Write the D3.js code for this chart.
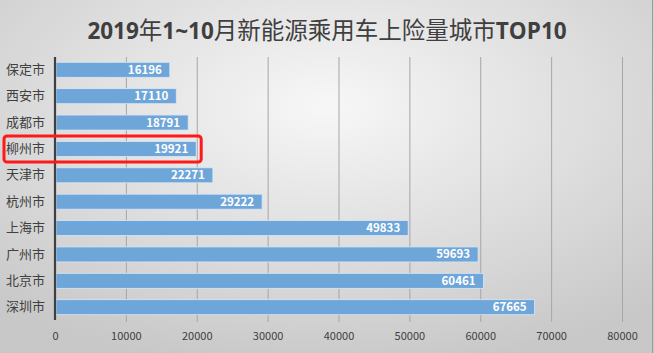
<!DOCTYPE html>
<html>
<head>
<meta charset="utf-8">
<script src="https://cdnjs.cloudflare.com/ajax/libs/d3/7.8.5/d3.min.js"></script>
<style>
  body { margin: 0; overflow: hidden; }
  text { font-family: "Noto Sans CJK SC", "Noto Sans", sans-serif; }
</style>
</head>
<body>
<script>
const w = 654;
const h = 353;

const cities = ["保定市", "西安市", "成都市", "柳州市", "天津市", "杭州市", "上海市", "广州市", "北京市", "深圳市"];
const values = [16196, 17110, 18791, 19921, 22271, 29222, 49833, 59693, 60461, 67665];
const xTicks = [0, 10000, 20000, 30000, 40000, 50000, 60000, 70000, 80000];
const highlight = "柳州市";

const titleParts = ["2019", "年", "1~10", "月新能源乘用车上险量城市", "TOP10"];
const m = { t: 57, r: 32, b: 33, l: 55 };
const gridWidth = w - m.l - m.r;
const gridHeight = h - m.t - m.b;

const svg = d3.select("body").append("svg").attr("width", w).attr("height", h);

// background
const defs = svg.append("defs");
const grad = defs
  .append("radialGradient")
  .attr("id", "bg")
  .attr("cx", "50%")
  .attr("cy", "30%")
  .attr("r", "75%");
grad.append("stop").attr("offset", "0%").attr("stop-color", "#f7f7f7");
grad.append("stop").attr("offset", "100%").attr("stop-color", "#c8c8c8");
svg.append("rect").attr("width", w).attr("height", h).attr("fill", "url(#bg)");
svg
  .append("line")
  .attr("x1", w - 1.5)
  .attr("x2", w - 1.5)
  .attr("y1", 0)
  .attr("y2", h)
  .attr("stroke", "#9a9a9a");

const xScale = d3.scaleLinear().domain([0, 80000]).range([0, gridWidth]);
const yScale = d3.scaleBand().domain(cities).range([0, gridHeight]).paddingInner(0.43).paddingOuter(0.2);

const g = svg.append("g").attr("transform", `translate(${m.l}, ${m.t})`);

// title: latin bold, CJK regular
const title = svg
  .append("text")
  .attr("x", w / 2)
  .attr("y", 39)
  .attr("text-anchor", "middle")
  .attr("fill", "#3f3f3f");
title
  .selectAll("tspan")
  .data(titleParts)
  .enter()
  .append("tspan")
  .attr("font-weight", (d, i) => (i % 2 === 0 ? "bold" : "normal"))
  .attr("font-family", (d, i) => (i % 2 === 0 ? "'Open Sans', 'DejaVu Sans', sans-serif" : null))
  .attr("font-size", (d, i) => (i % 2 === 0 ? 22.5 : 23.5))
  .text((d) => d);

// x-axis grid
const xAxis = d3
  .axisBottom(xScale)
  .tickValues(xTicks)
  .tickSize(-gridHeight - 2)
  .tickPadding(10)
  .tickFormat(d3.format("d"));
const xg = g.append("g").attr("transform", `translate(0, ${gridHeight + 2})`).call(xAxis);
xg.select(".domain").remove();
xg.selectAll(".tick line").attr("stroke", "#a6a6a6");
xg.selectAll(".tick text").attr("fill", "#404040").attr("font-size", 11).attr("font-family", "'Open Sans', 'DejaVu Sans', sans-serif");
xg.selectAll(".tick").filter((d) => d === 0).select("line").remove();

// bars
g.selectAll("rect.bar")
  .data(values)
  .enter()
  .append("rect")
  .attr("class", "bar")
  .attr("x", 1)
  .attr("y", (d, i) => yScale(cities[i]))
  .attr("width", (d) => xScale(d) - 1)
  .attr("height", yScale.bandwidth())
  .attr("fill", "#6fa6d9")
  .attr("stroke", "#dbe7f3")
  .attr("stroke-width", 0.8);

// value labels
g.selectAll("text.val")
  .data(values)
  .enter()
  .append("text")
  .attr("class", "val")
  .attr("x", (d) => xScale(d) - 8)
  .attr("y", (d, i) => yScale(cities[i]) + yScale.bandwidth() / 2 + 4)
  .attr("text-anchor", "end")
  .attr("font-size", 11.5)
  .attr("font-weight", "bold")
  .attr("fill", "#ffffff")
  .attr("font-family", "'Open Sans', 'DejaVu Sans', sans-serif")
  .text((d) => d);

// y-axis
const yAxis = d3.axisLeft(yScale).tickSize(0).tickPadding(6);
const yg = g.append("g").call(yAxis);
yg.select(".domain").remove();
yg.selectAll(".tick text").attr("fill", "#404040").attr("font-size", 13).attr("text-anchor", "start").attr("x", -49);
g.append("line")
  .attr("x1", 0)
  .attr("x2", 0)
  .attr("y1", 0)
  .attr("y2", gridHeight)
  .attr("stroke", "#404040")
  .attr("stroke-width", 2.2);

// highlight box
const hy = yScale(highlight);
g.append("rect")
  .attr("x", -51)
  .attr("y", hy - 5.5)
  .attr("width", xScale(values[cities.indexOf(highlight)]) + 5 + 51)
  .attr("height", yScale.bandwidth() + 11)
  .attr("rx", 3)
  .attr("fill", "none")
  .attr("stroke", "#ff1a1a")
  .attr("stroke-width", 3);
</script>
</body>
</html>
